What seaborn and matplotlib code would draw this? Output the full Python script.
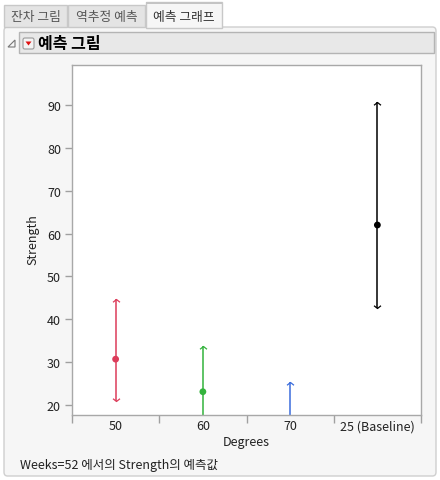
import matplotlib
matplotlib.use("Agg")
import matplotlib.pyplot as plt
import numpy as np
import pandas as pd
import seaborn as sns
from matplotlib.path import Path
from matplotlib.patches import Rectangle, FancyBboxPatch, Polygon

# ---- data ----
categories = ["50", "60", "70", "25 (Baseline)"]
predicted = [30.7, 23.1, 15.0, 62.0]
lower = [21.0, 12.4, 4.6, 42.6]
upper = [44.8, 33.8, 25.4, 90.6]
colors = ["#DC3C5A", "#33B33C", "#3A6CDC", "#000000"]
y_ticks = [20, 30, 40, 50, 60, 70, 80, 90]
footer = "Weeks=52 에서의 Strength의 예측값"
tabs = ["잔차 그림", "역추정 예측", "예측 그래프"]
title = "예측 그림"

sns.set_theme(style="white")
plt.rcParams["font.family"] = ["Noto Sans CJK KR", "DejaVu Sans"]

W, H = 440, 481
fig = plt.figure(figsize=(W / 100, H / 100), dpi=100)
fig.patch.set_facecolor("white")

def fx(x):
    return x / W

def fy(y):
    return 1 - y / H

# panel
panel = FancyBboxPatch((fx(4), fy(477)), fx(432), (477 - 28) / H,
                       boxstyle="round,pad=0,rounding_size=0.008",
                       transform=fig.transFigure, facecolor="#F6F6F6",
                       edgecolor="#CFCFCF", linewidth=1.0, zorder=-5)
fig.patches.append(panel)

# tabs
tab_x = [(4, 67), (68, 145), (146, 222)]
for i, ((x0, x1), t) in enumerate(zip(tab_x, tabs)):
    active = i == 2
    y0 = 3 if active else 6
    yb = 29 if active else 28
    r = Rectangle((fx(x0), fy(yb)), fx(x1 - x0), (yb - y0) / H,
                  transform=fig.transFigure,
                  facecolor="#F6F6F6" if active else "#E4E4E4",
                  edgecolor="#C8C8C8", linewidth=1.0, zorder=-4)
    fig.patches.append(r)
    if active:
        fig.patches.append(Rectangle((fx(x0), fy(5)), fx(x1 - x0), 2 / H,
                                     transform=fig.transFigure,
                                     facecolor="#C4C4C4", edgecolor="none", zorder=-3))
    fig.text(fx((x0 + x1) / 2), fy(17), t, ha="center", va="center",
             fontsize=9.2, color="#333333" if active else "#555555", zorder=3)

# header bar
hdr = Rectangle((fx(19), fy(54)), fx(415), 21 / H, transform=fig.transFigure,
                facecolor="#E8E8E8", edgecolor="#B4B4B4", linewidth=1.0, zorder=-4)
fig.patches.append(hdr)
fig.patches.append(Polygon([[fx(8), fy(48)], [fx(15), fy(48)], [fx(15), fy(41)]],
                           closed=True, transform=fig.transFigure,
                           facecolor="none", edgecolor="#777777", linewidth=0.8, zorder=-3))
fig.patches.append(FancyBboxPatch((fx(23), fy(50)), fx(11), 11 / H,
                                  boxstyle="round,pad=0,rounding_size=0.004",
                                  transform=fig.transFigure, facecolor="#F4F4F4",
                                  edgecolor="#9A9A9A", linewidth=0.8, zorder=-3))
fig.patches.append(Polygon([[fx(25.5), fy(42.5)], [fx(31.5), fy(42.5)], [fx(28.5), fy(46.5)]],
                           closed=True, transform=fig.transFigure,
                           facecolor="#E01010", edgecolor="none", zorder=-2))
fig.text(fx(38), fy(44), title, ha="left", va="center", fontsize=11.5,
         fontweight="bold", color="black", zorder=3)

# axes
ax = fig.add_axes([fx(72), fy(416), fx(421 - 72), (416 - 66) / H])
ax.set_zorder(5)
ax.set_facecolor("white")

df = pd.DataFrame({"Degrees": categories, "Strength": predicted,
                   "lo": lower, "hi": upper})

caret_up = Path([(-1, -0.8), (0, 0), (1, -0.8)], [Path.MOVETO, Path.LINETO, Path.LINETO])
caret_dn = Path([(-1, 0.8), (0, 0), (1, 0.8)], [Path.MOVETO, Path.LINETO, Path.LINETO])

for i, row in df.iterrows():
    c = colors[i]
    ax.vlines(i, row["lo"], row["hi"], color=c, linewidth=1.1, zorder=2)
    ax.plot([i], [row["hi"]], marker=caret_up, markersize=5, color=c,
            markerfacecolor="none", markeredgewidth=0.9, zorder=3)
    ax.plot([i], [row["lo"]], marker=caret_dn, markersize=5, color=c,
            markerfacecolor="none", markeredgewidth=0.9, zorder=3)

sns.scatterplot(data=df, x="Degrees", y="Strength", hue="Degrees",
                palette=colors, s=24, edgecolor="none", legend=False,
                ax=ax, zorder=4)

ax.set_xlim(-0.5, 3.5)
ax.set_ylim(17.67, 99.33)
ax.set_yticks(y_ticks)
ax.set_yticklabels([str(v) for v in y_ticks])
ax.set_xticks(range(len(categories)))
ax.set_xticklabels(categories)
ax.set_xticks(np.arange(-0.5, 3.6, 1.0), minor=True)
ax.tick_params(axis="x", which="major", length=0, pad=3, labelsize=9, labelcolor="#222222")
ax.tick_params(axis="x", which="minor", length=6, width=1, color="#A0A0A0", direction="out")
ax.tick_params(axis="y", which="major", length=5, width=1, color="#A0A0A0",
               direction="out", pad=3, labelsize=9, labelcolor="#222222")
ax.tick_params(left=True, bottom=True, which="both")
for s in ax.spines.values():
    s.set_color("#A8A8A8")
    s.set_linewidth(1.0)
    s.set_visible(True)
ax.set_xlabel("Degrees", fontsize=9, color="#222222", labelpad=2)
ax.set_ylabel("Strength", fontsize=9, color="#222222")
ax.yaxis.set_label_coords((39 - 72) / (421 - 72), (416 - 240) / 350)

fig.text(fx(20), fy(466), footer, ha="left", va="center", fontsize=9, color="#222222")

fig.savefig("out.png", dpi=100, facecolor="white")
